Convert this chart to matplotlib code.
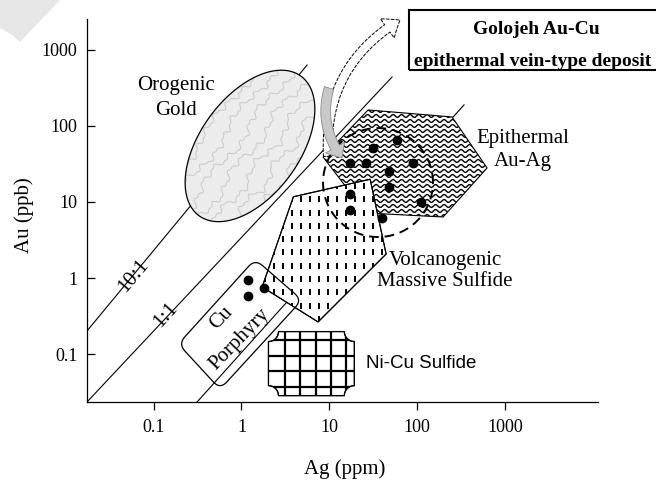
import numpy as np
import matplotlib
matplotlib.use('Agg')
import matplotlib.pyplot as plt
from matplotlib.patches import Polygon, FancyArrowPatch, Rectangle
from matplotlib.collections import LineCollection
from matplotlib.transforms import IdentityTransform
from matplotlib.ticker import NullLocator

plt.rcParams['font.family'] = ['Liberation Serif', 'DejaVu Serif']

# axis ranges: Ag (ppm) and Au (ppb)
ag_range = (0.0174, 11500)
au_range = (0.0235, 2540)
tick_vals = [0.1, 1, 10, 100, 1000]
tick_text = ['0.1', '1', '10', '100', '1000']

# Golojeh samples
ag_samples = [31.8, 58.7, 17.3, 26.2, 89.3, 48.3, 48.3, 17.3, 17.3, 110, 39.6, 1.20, 1.20, 1.81]
au_samples = [51.7, 65.3, 32.3, 32.3, 32.3, 25.5, 15.7, 12.6, 7.85, 9.91, 6.22, 0.944, 0.582, 0.734]

# Au:Ag reference lines
line10_ag, line10_au = [0.0174, 5.59], [0.2018, 631]
line1_ag, line1_au = [0.0174, 51.9], [0.0235, 439]
line01_ag, line01_au = [0.312, 343], [0.0235, 189]

# deposit fields
orogenic_center, orogenic_axes, orogenic_angle = (1.25, 54.5), (1.09, 0.59), 61
epithermal_ag = [8.5, 27.7, 250, 627, 198, 26.2]
epithermal_au = [39.0, 162, 131, 28.0, 6.35, 7.17]
vms_ag = [3.90, 29.2, 44.4, 7.45, 1.72]
vms_au = [11.7, 19.9, 2.07, 0.265, 0.764]
porphyry_ag = [0.191, 1.43, 4.90, 0.571]
porphyry_au = [0.136, 1.77, 0.515, 0.0346]
nicu_ag = (2.03, 19.3)
nicu_au = (0.0285, 0.198)
golojeh_center, golojeh_radii = (35.9, 18.0), (0.626, 0.716)


def log_ellipse(center, a, b, angle, n=240):
    t = np.linspace(0, 2 * np.pi, n)
    cx, cy = np.log10(center)
    phi = np.radians(angle)
    lx = cx + a * np.cos(t) * np.cos(phi) - b * np.sin(t) * np.sin(phi)
    ly = cy + a * np.cos(t) * np.sin(phi) + b * np.sin(t) * np.cos(phi)
    return np.column_stack([10 ** lx, 10 ** ly])


def rounded(ag, au, r, n=10):
    p = np.log10(np.column_stack([ag, au]))
    s = np.linspace(0, 1, n)[:, None]
    out = []
    for i in range(len(p)):
        prev, cur, nxt = p[i - 1], p[i], p[(i + 1) % len(p)]
        a = cur + (prev - cur) * r / np.linalg.norm(prev - cur)
        b = cur + (nxt - cur) * r / np.linalg.norm(nxt - cur)
        out.append((1 - s) ** 2 * a + 2 * (1 - s) * s * cur + s ** 2 * b)
    return 10 ** np.vstack(out)


def notched_box(ag, au, rx, ry, n=12):
    x0, x1 = np.log10(ag)
    y0, y1 = np.log10(au)
    out = []
    for k, (cx, cy) in enumerate([(x0, y0), (x1, y0), (x1, y1), (x0, y1)]):
        th = np.radians(np.linspace(90 * (k + 1), 90 * k, n))
        out.append(np.column_stack([cx + rx * np.cos(th), cy + ry * np.sin(th)]))
    return 10 ** np.vstack(out)


def texture(segs, patch, lw, z, color='k'):
    lc = LineCollection(segs, colors=color, linewidths=lw,
                        transform=IdentityTransform(), zorder=z)
    lc.set_clip_path(patch)
    ax.add_collection(lc, autolim=False)


def pixel_bounds(patch):
    xy = ax.transData.transform(patch.get_xy())
    return xy[:, 0].min(), xy[:, 0].max(), xy[:, 1].min(), xy[:, 1].max()


fig = plt.figure(figsize=(6.56, 4.80), dpi=100)
ax = fig.add_axes([87 / 656, 78 / 480, 511 / 656, 383 / 480])
ax.set_xscale('log')
ax.set_yscale('log')
ax.set_xlim(ag_range)
ax.set_ylim(au_range)
for side in ('top', 'right'):
    ax.spines[side].set_visible(False)
for side in ('left', 'bottom'):
    ax.spines[side].set_linewidth(0.9)

ax.set_xticks(tick_vals, tick_text)
ax.set_yticks(tick_vals, tick_text)
ax.xaxis.set_minor_locator(NullLocator())
ax.yaxis.set_minor_locator(NullLocator())
ax.tick_params(axis='x', direction='out', length=6, width=0.9, pad=6, labelsize=13)
ax.tick_params(axis='y', direction='in', length=6, width=0.9, pad=7, labelsize=13)
ax.set_xlabel('Ag (ppm)', fontsize=15)
ax.xaxis.set_label_coords(0.505, -0.15)
ax.set_ylabel('Au (ppb)', fontsize=15)
ax.yaxis.set_label_coords(-0.103, 0.488)

# ratio lines
for xs, ys in [(line10_ag, line10_au), (line1_ag, line1_au), (line01_ag, line01_au)]:
    ax.plot(xs, ys, color='k', lw=0.8, zorder=1)
ax.text(0.0587, 1.07, '10:1', rotation=50, fontsize=15, ha='center', va='center', zorder=1.5)
ax.text(0.138, 0.33, '1:1', rotation=48, fontsize=15, ha='center', va='center', zorder=1.5)

# orogenic gold, marbled fill
oro = Polygon(log_ellipse(orogenic_center, *orogenic_axes, orogenic_angle),
              closed=True, fc='#ececec', ec='none', zorder=2)
ax.add_patch(oro)
x0, x1, y0, y1 = pixel_bounds(oro)
u = np.linspace(-120, 120, 240)
veins = []
for k, off in enumerate(np.arange(-48, 52, 15.0)):
    wob = (4.0 * np.sin(u / (6.3 + 1.7 * k) + 1.3 * k)
           + 2.2 * np.sin(u / 2.9 + 2.1 * k) + 1.2 * np.sin(u / 1.3 + k))
    vx = (x0 + x1) / 2 + u * 0.6 - (off + wob) * 0.8
    vy = (y0 + y1) / 2 + u * 0.8 + (off + wob) * 0.6
    veins.append(np.column_stack([vx, vy]))
texture(veins, oro, 0.8, 2.1, color='#cbcbcb')
ax.add_patch(Polygon(oro.get_xy(), closed=True, fill=False, ec='k', lw=0.9, zorder=2.2))
ax.text(0.180, 233, 'Orogenic\nGold', fontsize=15, ha='center', va='center', linespacing=1.45)

# epithermal Au-Ag, wavy fill
epi = Polygon(np.column_stack([epithermal_ag, epithermal_au]), closed=True,
              fc='white', ec='k', lw=0.8, zorder=3)
ax.add_patch(epi)
x0, x1, y0, y1 = pixel_bounds(epi)
xs = np.arange(x0 - 5, x1 + 5, 0.5)
waves = [np.column_stack([xs, y + 1.4 * np.sin(2 * np.pi * xs / 8.5)])
         for y in np.arange(y0 - 4, y1 + 4, 5.0)]
texture(waves, epi, 1.0, 3.1)
ax.text(1603, 48.2, 'Epithermal\nAu-Ag', fontsize=15, ha='center', va='center', linespacing=1.3)

# VMS, dashed fill
vms = Polygon(np.column_stack([vms_ag, vms_au]), closed=True,
              fc='white', ec='k', lw=0.8, zorder=4)
ax.add_patch(vms)
x0, x1, y0, y1 = pixel_bounds(vms)
dashes = [[(x, y), (x, y + 6)]
          for x in np.arange(x0 + 3, x1, 9.0) for y in np.arange(y0, y1, 13.3)]
texture(dashes, vms, 1.4, 4.1)
ax.add_patch(Polygon(vms.get_xy(), closed=True, fill=False, ec='k', lw=0.8, zorder=4.2))
ax.text(208, 1.24, 'Volcanogenic\nMassive Sulfide', fontsize=15, ha='center', va='center',
        linespacing=1.15)

# Ni-Cu sulfide, grid fill
nicu = Polygon(notched_box(nicu_ag, nicu_au, 0.114, 0.131), closed=True,
               fc='white', ec='k', lw=0.8, zorder=4)
ax.add_patch(nicu)
x0, x1, y0, y1 = pixel_bounds(nicu)
grid = [[(x, y0), (x, y1)] for x in np.arange(x0 + 16.5, x1 - 3, 15.3)]
grid += [[(x0, y), (x1, y)] for y in np.arange(y1 - 8.5, y0 + 3, -15.5)]
texture(grid, nicu, 1.6, 4.1)
ax.add_patch(Polygon(nicu.get_xy(), closed=True, fill=False, ec='k', lw=0.9, zorder=4.2))
ax.text(111, 0.0746, 'Ni-Cu Sulfide', fontsize=13.5, family='Liberation Sans',
        ha='center', va='center')

# Cu porphyry
ax.add_patch(Polygon(rounded(porphyry_ag, porphyry_au, 0.12), closed=True,
                     fill=False, ec='k', lw=0.9, zorder=5))
ax.text(0.586, 0.299, 'Cu', rotation=46, fontsize=15, ha='center', va='center', zorder=5)
ax.text(0.964, 0.158, 'Porphyry', rotation=46, fontsize=15, ha='center', va='center', zorder=5)

# Golojeh samples
ax.add_patch(Polygon(log_ellipse(golojeh_center, *golojeh_radii, 0), closed=True,
                     fill=False, ec='k', lw=1.4, ls=(0, (5, 3)), zorder=6))
ax.scatter(ag_samples, au_samples, s=36, color='k', zorder=7, clip_on=False)

# arrows towards the deposit box
ax.add_patch(FancyArrowPatch((9.66, 40), (64.0, 2465), connectionstyle='arc3,rad=-0.3',
                             arrowstyle='simple,head_length=11,head_width=17,tail_width=6.5',
                             fc='white', ec='k', lw=0.7, ls=(0, (3, 2)),
                             shrinkA=0, shrinkB=0, clip_on=False, zorder=5.5))
ax.add_patch(FancyArrowPatch((9.95, 315), (14.0, 37.9), connectionstyle='arc3,rad=0.25',
                             arrowstyle='simple,head_length=9,head_width=16,tail_width=7',
                             fc='#c8c8c8', ec='#8a8a8a', lw=0.6,
                             shrinkA=0, shrinkB=0, clip_on=False, zorder=6.5))

fig.add_artist(Rectangle((409 / 656, 410 / 480), 0.5, 60 / 480, transform=fig.transFigure,
                         fill=False, ec='k', lw=1.5))
fig.text(536 / 656, 450 / 480, 'Golojeh Au-Cu', fontsize=14, weight='bold',
         ha='center', va='center')
fig.text(533 / 656, 419 / 480, 'epithermal vein-type deposit', fontsize=14, weight='bold',
         ha='center', va='center')

# faint corner mark
fig.add_artist(Polygon([(0, 480), (60, 480), (20, 438), (12, 445), (0, 452)], closed=True,
                       transform=IdentityTransform(), fc='#e6e6e6', ec='none'))

fig.savefig('out.png', dpi=100)
